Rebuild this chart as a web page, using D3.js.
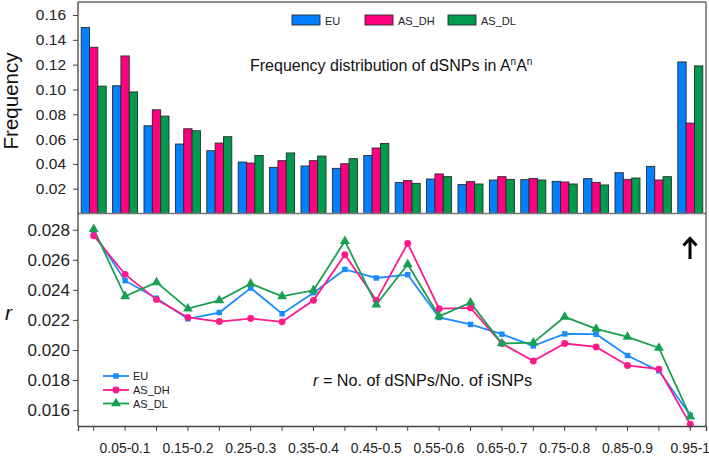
<!DOCTYPE html>
<html><head><meta charset="utf-8">
<script src="https://cdn.jsdelivr.net/npm/d3@7"></script>
<style>body{margin:0;background:#fff}svg{display:block}</style>
</head><body>
<svg id="c" width="709" height="460"></svg>
<script>
const categories = ["0-0.05","0.05-0.1","0.1-0.15","0.15-0.2","0.2-0.25","0.25-0.3","0.3-0.35","0.35-0.4","0.4-0.45","0.45-0.5","0.5-0.55","0.55-0.6","0.6-0.65","0.65-0.7","0.7-0.75","0.75-0.8","0.8-0.85","0.85-0.9","0.9-0.95","0.95-1"];
const seriesNames = ["EU","AS_DH","AS_DL"];
// Frequency (top panel)
const freqEU   = [0.150,0.103,0.0707,0.056,0.0506,0.0415,0.0372,0.0383,0.0364,0.0468,0.0249,0.0278,0.0233,0.0270,0.0273,0.0259,0.0281,0.0329,0.0380,0.1222];
const freqDH   = [0.134,0.127,0.0836,0.0683,0.0568,0.0407,0.0426,0.0426,0.0401,0.0528,0.0265,0.0319,0.0257,0.0297,0.0283,0.0254,0.0251,0.0275,0.0270,0.0729];
const freqDL   = [0.1027,0.098,0.0785,0.0667,0.0619,0.0468,0.0488,0.0463,0.0442,0.0565,0.0243,0.0297,0.0238,0.0275,0.0270,0.0238,0.0230,0.0286,0.0297,0.1190];
// r (bottom panel)
const rEU = [0.0278,0.02461,0.02344,0.02207,0.02249,0.02412,0.02241,0.02381,0.02536,0.02479,0.02501,0.02216,0.02170,0.02105,0.02027,0.02107,0.02105,0.01963,0.01861,0.01565];
const rDH = [0.0276,0.02503,0.02335,0.02216,0.02189,0.02209,0.02187,0.0233,0.02634,0.0233,0.02709,0.02275,0.02280,0.02043,0.01927,0.02043,0.0202,0.01897,0.01872,0.01505];
const rDL = [0.02804,0.02357,0.0245,0.02275,0.0233,0.02441,0.02357,0.02397,0.02724,0.02302,0.0257,0.02224,0.02315,0.02043,0.02049,0.0222,0.0214,0.02087,0.02014,0.01556];
const freqTicks = [0.02,0.04,0.06,0.08,0.10,0.12,0.14,0.16];
const rTicks = [0.016,0.018,0.020,0.022,0.024,0.026,0.028];

const barColors = ["#0080ff","#ff0080","#009a4e"];
const lineColors = ["#1a8cff","#ff1a8c","#18a050"];

const svg = d3.select("#c");
const L = 78, R = 706, T = 2, MID = 213.5, B = 426;
const FONT = "'Liberation Sans', Arial, sans-serif";

const xc = d3.scaleBand().domain(categories).range([L, R]);

// ---------- top panel ----------
const yTop = d3.scaleLinear().domain([0, 0.1705]).range([MID, T]);
const freq = [freqEU, freqDH, freqDL];
const g1 = svg.append("g");
categories.forEach((c, i) => {
  seriesNames.forEach((s, j) => {
    g1.append("rect")
      .attr("x", xc(c) + (xc.bandwidth() - 25) / 2 + j * 25 / 3)
      .attr("width", 25 / 3)
      .attr("y", yTop(freq[j][i]))
      .attr("height", MID - yTop(freq[j][i]))
      .attr("fill", barColors[j])
      .attr("stroke", "#2a2a2a").attr("stroke-width", 0.9);
  });
});
const ay1 = svg.append("g").attr("transform", `translate(${L},0)`)
  .call(d3.axisLeft(yTop).tickValues(freqTicks).tickFormat(d3.format(".2f")).tickSize(5).tickPadding(7));
ay1.select(".domain").remove();
ay1.selectAll("text").attr("font-family", FONT).attr("font-size", 15.5).attr("fill", "#222");
ay1.selectAll("line").attr("stroke", "#444");

// frame
svg.append("line").attr("x1", L).attr("x2", R).attr("y1", T).attr("y2", T).attr("stroke", "#666").attr("stroke-width", 1.5);
svg.append("line").attr("x1", L).attr("x2", R).attr("y1", MID).attr("y2", MID).attr("stroke", "#777").attr("stroke-width", 1.5);
svg.append("line").attr("x1", L).attr("x2", L).attr("y1", T).attr("y2", B).attr("stroke", "#444").attr("stroke-width", 1.3);
svg.append("line").attr("x1", R).attr("x2", R).attr("y1", T).attr("y2", B).attr("stroke", "#555").attr("stroke-width", 1.3);

// top legend
const legX = [292, 365, 448];
seriesNames.forEach((s, j) => {
  svg.append("rect").attr("x", legX[j]).attr("y", 15).attr("width", 28).attr("height", 10)
    .attr("fill", barColors[j]).attr("stroke", "#2a2a2a").attr("stroke-width", 0.9);
  svg.append("text").attr("x", legX[j] + 33).attr("y", 24.5).text(s)
    .attr("font-family", FONT).attr("font-size", 11).attr("fill", "#222");
});

// top title
const t1 = svg.append("text").attr("x", 250).attr("y", 71).attr("font-family", FONT).attr("font-size", 16).attr("fill", "#111");
t1.append("tspan").text("Frequency distribution of dSNPs in A");
t1.append("tspan").text("n").attr("font-size", 10).attr("dy", -6);
t1.append("tspan").text("A").attr("dy", 6);
t1.append("tspan").text("n").attr("font-size", 10).attr("dy", -6);

svg.append("text").attr("transform", "translate(18,101) rotate(-90)").attr("text-anchor", "middle")
  .attr("font-family", FONT).attr("font-size", 20.5).attr("fill", "#111").text("Frequency");

// ---------- bottom panel ----------
const yBot = d3.scaleLinear().domain([0.01494, 0.02908]).range([B, MID]);
const rs = [rEU, rDH, rDL];
const xp = c => xc(c) + xc.bandwidth() / 2;
const line = d3.line().x((d, i) => xp(categories[i])).y(d => yBot(d));
const g2 = svg.append("g");
const sym = [d3.symbolSquare, d3.symbolCircle, d3.symbolTriangle];
const symSize = [30, 38, 42];
rs.forEach((arr, j) => {
  g2.append("path").datum(arr).attr("d", line).attr("fill", "none")
    .attr("stroke", lineColors[j]).attr("stroke-width", 1.8);
});
rs.forEach((arr, j) => {
  g2.selectAll(null).data(arr).join("path")
    .attr("transform", (d, i) => `translate(${xp(categories[i])},${yBot(d)})`)
    .attr("d", d3.symbol().type(sym[j]).size(symSize[j]))
    .attr("fill", lineColors[j]);
});

const ay2 = svg.append("g").attr("transform", `translate(${L},0)`)
  .call(d3.axisLeft(yBot).tickValues(rTicks).tickFormat(d3.format(".3f")).tickSize(5).tickPadding(3));
ay2.select(".domain").remove();
ay2.selectAll("text").attr("font-family", FONT).attr("font-size", 17).attr("fill", "#222");
ay2.selectAll("line").attr("stroke", "#444");

const ax = svg.append("g").attr("transform", `translate(0,${B})`)
  .call(d3.axisBottom(xc).tickSize(5).tickPadding(12).tickFormat((d, i) => i % 2 === 1 ? d : ""));
ax.select(".domain").attr("stroke", "#444").attr("stroke-width", 1.3);
ax.selectAll("line").attr("stroke", "#444");
ax.selectAll("text").attr("font-family", FONT).attr("font-size", 13.9).attr("fill", "#222");

svg.append("text").attr("x", 5).attr("y", 320).attr("font-family", FONT).attr("font-style", "italic")
  .attr("font-size", 21).attr("fill", "#111").text("r");

// bottom annotation
const t2 = svg.append("text").attr("x", 313).attr("y", 386).attr("font-family", FONT).attr("font-size", 16.2).attr("fill", "#111");
t2.append("tspan").text("r").attr("font-style", "italic");
t2.append("tspan").text(" = No. of dSNPs/No. of iSNPs");

// bottom legend
const legY = [376, 390, 403.5];
seriesNames.forEach((s, j) => {
  svg.append("line").attr("x1", 103).attr("x2", 129).attr("y1", legY[j]).attr("y2", legY[j])
    .attr("stroke", lineColors[j]).attr("stroke-width", 1.8);
  svg.append("path").attr("transform", `translate(116,${legY[j]})`)
    .attr("d", d3.symbol().type(sym[j]).size(symSize[j])).attr("fill", lineColors[j]);
  svg.append("text").attr("x", 133).attr("y", legY[j] + 4).text(s)
    .attr("font-family", FONT).attr("font-size", 11).attr("fill", "#222");
});

// arrow
svg.append("line").attr("x1", 690).attr("x2", 690).attr("y1", 259).attr("y2", 240)
  .attr("stroke", "#000").attr("stroke-width", 3);
svg.append("path").attr("d", "M683.5,245.5 L690,238.5 L696.5,245.5").attr("fill", "none")
  .attr("stroke", "#000").attr("stroke-width", 3).attr("stroke-linejoin", "miter");
</script>
</body></html>
